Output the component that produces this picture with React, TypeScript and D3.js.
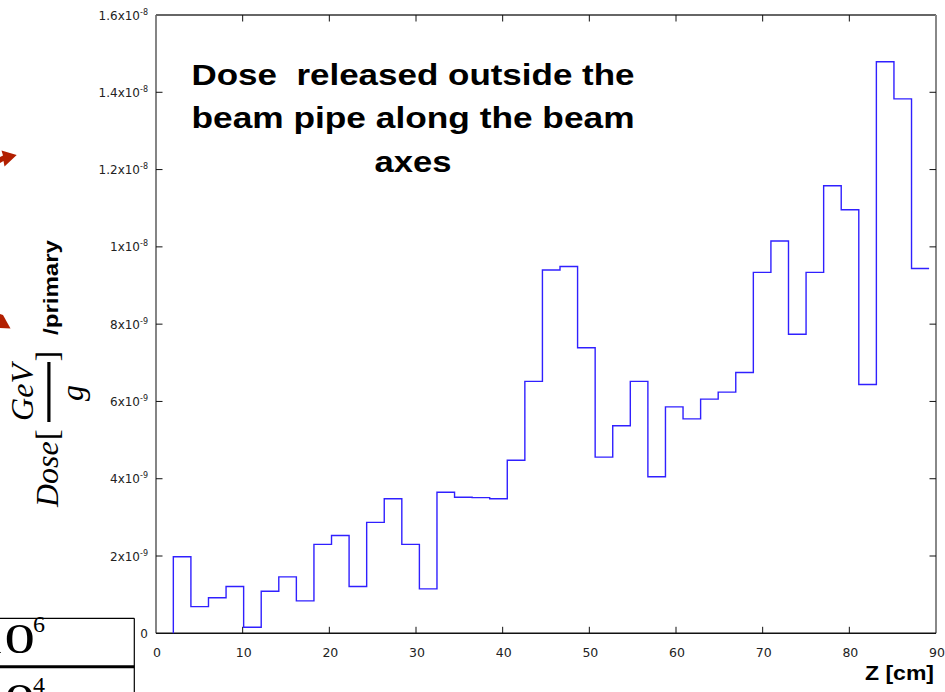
import React from "react";
import * as d3 from "d3";

// ---- data ----
const zStart = 2.0; // cm, lower edge of first bin
const binWidth = 2.028; // cm
const doseValues = [
  1.98e-9, 0.69e-9, 0.92e-9, 1.21e-9, 0.155e-9, 1.09e-9, 1.46e-9, 0.84e-9,
  2.3e-9, 2.53e-9, 1.21e-9, 2.87e-9, 3.48e-9, 2.3e-9, 1.15e-9, 3.65e-9,
  3.52e-9, 3.51e-9, 3.48e-9, 4.48e-9, 6.52e-9, 9.4e-9, 9.49e-9, 7.39e-9,
  4.56e-9, 5.37e-9, 6.52e-9, 4.05e-9, 5.86e-9, 5.55e-9, 6.06e-9, 6.24e-9,
  6.75e-9, 9.34e-9, 10.15e-9, 7.74e-9, 9.34e-9, 11.58e-9, 10.96e-9, 6.44e-9,
  14.79e-9, 13.83e-9, 9.44e-9,
];
const xTicks = [0, 10, 20, 30, 40, 50, 60, 70, 80, 90];
const yTicks = [0, 2e-9, 4e-9, 6e-9, 8e-9, 1e-8, 1.2e-8, 1.4e-8, 1.6e-8];
const yTickMantissa = ["0", "2x10", "4x10", "6x10", "8x10", "1x10", "1.2x10", "1.4x10", "1.6x10"];
const yTickExp = ["", "-9", "-9", "-9", "-9", "-8", "-8", "-8", "-8"];
const titleLines = ["Dose  released outside the", "beam pipe along the beam", "axes"];
const xLabel = "Z [cm]";

export default function App() {
  const L = 156, R = 936, T = 15, B = 633.3;
  const x = d3.scaleLinear().domain([0, 90]).range([L, R]);
  const y = d3.scaleLinear().domain([0, 1.6e-8]).range([B, T]);

  const pts: [number, number][] = [[zStart, 0]];
  doseValues.forEach((v, i) => pts.push([zStart + i * binWidth, v]));
  pts.push([zStart + doseValues.length * binWidth, doseValues[doseValues.length - 1]]);
  const line = d3
    .line<[number, number]>()
    .x((d) => x(d[0]))
    .y((d) => y(d[1]))
    .curve(d3.curveStepAfter);

  const tickFont = "DejaVu Sans, sans-serif";
  const inner = xTicks.slice(1, -1);
  const innerY = yTicks.slice(1, -1);

  return (
    <svg
      width={945}
      height={692}
      style={{ position: "absolute", left: 0, top: 0, background: "#fff" }}
    >
      {/* stray fragments of neighbouring figure */}
      <polygon points="0,157 3,155.5 1.5,150.5 16.7,155 4.5,166.5 3.5,161 0,163" fill="#b21f00" />
      <polygon points="0,314 3,315 10.5,328.5 0,328" fill="#b21f00" />
      <line x1={0} x2={134.3} y1={618.3} y2={618.3} stroke="#000" strokeWidth={1.2} />
      <line x1={134.3} x2={134.3} y1={618.3} y2={692} stroke="#000" strokeWidth={1.2} />
      <line x1={0} x2={134.3} y1={666.7} y2={666.7} stroke="#000" strokeWidth={3} />
      <g transform="translate(35,653) scale(1.45,1)">
        <text x={0} y={0} textAnchor="end" fontFamily="Liberation Serif, serif" fontSize={42}>10</text>
      </g>
      <text x={33} y={631.5} fontFamily="Liberation Serif, serif" fontSize={24}>6</text>
      <g transform="translate(35,713) scale(1.45,1)">
        <text x={0} y={0} textAnchor="end" fontFamily="Liberation Serif, serif" fontSize={42}>10</text>
      </g>
      <text x={33} y={693} fontFamily="Liberation Serif, serif" fontSize={24}>4</text>

      {/* frame */}
      <line x1={L} x2={R} y1={T} y2={T} stroke="#666" strokeWidth={2} />
      <line x1={R} x2={R} y1={T} y2={B} stroke="#888" strokeWidth={2} />
      <line x1={L} x2={L} y1={T} y2={B} stroke="#666" strokeWidth={1.6} />
      <line x1={L} x2={R} y1={B} y2={B} stroke="#111" strokeWidth={1.5} />

      {/* ticks */}
      {inner.map((t) => (
        <g key={"xt" + t}>
          <line x1={x(t)} x2={x(t)} y1={B} y2={B - 6.5} stroke="#111" strokeWidth={1} />
          <line x1={x(t)} x2={x(t)} y1={T} y2={T + 6.5} stroke="#111" strokeWidth={1} />
        </g>
      ))}
      {innerY.map((t) => (
        <g key={"yt" + t}>
          <line x1={L} x2={L + 6.5} y1={y(t)} y2={y(t)} stroke="#111" strokeWidth={1} />
          <line x1={R} x2={R - 6.5} y1={y(t)} y2={y(t)} stroke="#111" strokeWidth={1} />
        </g>
      ))}

      {/* tick labels */}
      {xTicks.map((t) => (
        <text
          key={"xl" + t}
          x={x(t) + 1}
          y={656.5}
          textAnchor="middle"
          fontFamily={tickFont}
          fontSize={12.5}
          fill="#222"
        >
          {t}
        </text>
      ))}
      {yTicks.map((t, i) => (
        <text
          key={"yl" + t}
          x={148}
          y={y(t) + 4.5}
          textAnchor="end"
          fontFamily={tickFont}
          fontSize={12}
          fill="#222"
        >
          {yTickMantissa[i]}
          {yTickExp[i] && (
            <tspan fontSize={8} dy={-5}>
              {yTickExp[i]}
            </tspan>
          )}
        </text>
      ))}

      {/* histogram */}
      <path d={line(pts) || ""} fill="none" stroke="#3020ff" strokeWidth={1.4} />

      {/* title */}
      {titleLines.map((s, i) => (
        <text
          key={"t" + i}
          x={413}
          y={85 + i * 43.3}
          textAnchor="middle"
          fontFamily="Liberation Sans, Arial, sans-serif"
          fontWeight="bold"
          fontSize={30}
          fill="#000"
          style={{ whiteSpace: "pre" }}
          textLength={i === 2 ? 77 : 443}
          lengthAdjust="spacingAndGlyphs"
        >
          {s}
        </text>
      ))}

      {/* x axis label */}
      <text
        x={934}
        y={680}
        textAnchor="end"
        fontFamily="Liberation Sans, Arial, sans-serif"
        fontWeight="bold"
        fontSize={21}
        textLength={69}
        lengthAdjust="spacingAndGlyphs"
      >
        {xLabel}
      </text>

      {/* y axis label */}
      <g fontFamily="Liberation Serif, Times New Roman, serif" fontStyle="italic" fill="#000">
        <text transform="translate(58.3,507) rotate(-90)" fontSize={32}>
          Dose
        </text>
        <text transform="translate(58.3,440) rotate(-90)" fontSize={32} fontStyle="normal">
          [
        </text>
        <text transform="translate(33,392.5) rotate(-90)" fontSize={32} textAnchor="middle">
          GeV
        </text>
        <rect x={47.3} y={362} width={3.2} height={60} fill="#000" />
        <text transform="translate(82.5,393) rotate(-90)" fontSize={32} textAnchor="middle">
          g
        </text>
        <text transform="translate(58.3,361.5) rotate(-90)" fontSize={32} fontStyle="normal">
          ]
        </text>
      </g>
      <text
        transform="translate(57.5,335) rotate(-90)"
        fontFamily="Liberation Sans, Arial, sans-serif"
        fontWeight="bold"
        fontSize={20}
        textLength={95}
        lengthAdjust="spacingAndGlyphs"
      >
        /primary
      </text>
    </svg>
  );
}
